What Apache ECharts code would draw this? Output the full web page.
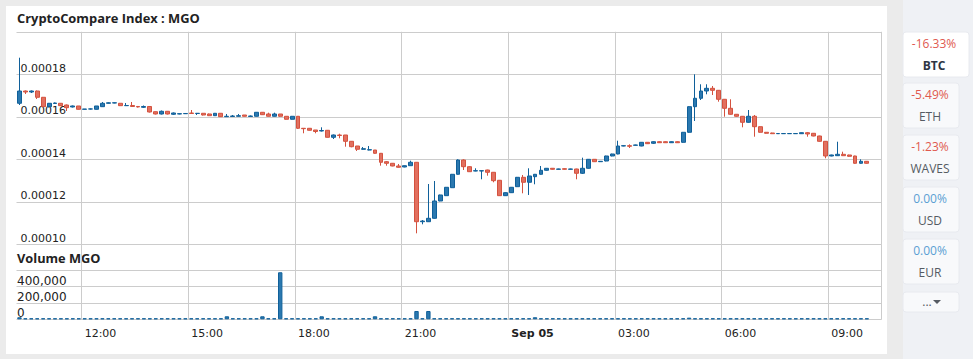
<!DOCTYPE html>
<html><head><meta charset="utf-8">
<script src="https://cdn.jsdelivr.net/npm/echarts@6/dist/echarts.min.js"></script>
<style>html,body{margin:0;padding:0;background:#ebebeb;}#c{width:973px;height:359px;}</style>
</head><body><div id="c"></div>
<script>
// 10-minute slots, Sep 04 10:10 -> Sep 05 10:20 (last two slots empty)
const categories = [
"09-04 10:10","09-04 10:20","09-04 10:30","09-04 10:40","09-04 10:50",
"09-04 11:00","09-04 11:10","09-04 11:20","09-04 11:30","09-04 11:40","09-04 11:50",
"09-04 12:00","09-04 12:10","09-04 12:20","09-04 12:30","09-04 12:40","09-04 12:50",
"09-04 13:00","09-04 13:10","09-04 13:20","09-04 13:30","09-04 13:40","09-04 13:50",
"09-04 14:00","09-04 14:10","09-04 14:20","09-04 14:30","09-04 14:40","09-04 14:50",
"09-04 15:00","09-04 15:10","09-04 15:20","09-04 15:30","09-04 15:40","09-04 15:50",
"09-04 16:00","09-04 16:10","09-04 16:20","09-04 16:30","09-04 16:40","09-04 16:50",
"09-04 17:00","09-04 17:10","09-04 17:20","09-04 17:30","09-04 17:40","09-04 17:50",
"09-04 18:00","09-04 18:10","09-04 18:20","09-04 18:30","09-04 18:40","09-04 18:50",
"09-04 19:00","09-04 19:10","09-04 19:20","09-04 19:30","09-04 19:40","09-04 19:50",
"09-04 20:00","09-04 20:10","09-04 20:20","09-04 20:30","09-04 20:40","09-04 20:50",
"09-04 21:00","09-04 21:10","09-04 21:20","09-04 21:30","09-04 21:40","09-04 21:50",
"09-04 22:00","09-04 22:10","09-04 22:20","09-04 22:30","09-04 22:40","09-04 22:50",
"09-04 23:00","09-04 23:10","09-04 23:20","09-04 23:30","09-04 23:40","09-04 23:50",
"09-05 00:00","09-05 00:10","09-05 00:20","09-05 00:30","09-05 00:40","09-05 00:50",
"09-05 01:00","09-05 01:10","09-05 01:20","09-05 01:30","09-05 01:40","09-05 01:50",
"09-05 02:00","09-05 02:10","09-05 02:20","09-05 02:30","09-05 02:40","09-05 02:50",
"09-05 03:00","09-05 03:10","09-05 03:20","09-05 03:30","09-05 03:40","09-05 03:50",
"09-05 04:00","09-05 04:10","09-05 04:20","09-05 04:30","09-05 04:40","09-05 04:50",
"09-05 05:00","09-05 05:10","09-05 05:20","09-05 05:30","09-05 05:40","09-05 05:50",
"09-05 06:00","09-05 06:10","09-05 06:20","09-05 06:30","09-05 06:40","09-05 06:50",
"09-05 07:00","09-05 07:10","09-05 07:20","09-05 07:30","09-05 07:40","09-05 07:50",
"09-05 08:00","09-05 08:10","09-05 08:20","09-05 08:30","09-05 08:40","09-05 08:50",
"09-05 09:00","09-05 09:10","09-05 09:20","09-05 09:30","09-05 09:40","09-05 09:50",
"09-05 10:00","09-05 10:10","09-05 10:20"
];
// category indices where tick labels/grid lines sit
const tickIndex = [11, 29, 47, 65, 83, 101, 119, 137];
const xTickLabels = ["12:00","15:00","18:00","21:00","Sep 05","03:00","06:00","09:00"];

// prices in satoshi (1e-8 BTC)
const openSat = [
16636,17214,17167,17214,16918,16476,16626,16636,16556,16462,16509,16353,
16367,16353,16476,16636,16650,16636,16523,16532,16485,16447,16485,16240,
16132,16259,16118,16132,16146,16179,16156,16165,16132,16052,16165,16005,
16015,16024,16085,16015,16024,16212,16132,16024,16132,16024,15883,16024,
15459,15459,15379,15332,15365,15035,15144,15144,14847,14626,14471,14438,
14438,14282,13887,13812,13685,13638,13699,13859,11063,11063,11223,12038,
12288,12664,13295,13967,13652,13450,13450,13497,13389,13012,12288,12429,
12711,13153,12918,13182,13295,13483,13577,13530,13558,13530,13544,13342,
13577,14000,13887,13920,14156,14250,14626,14640,14659,14626,14800,14753,
14828,14828,14781,14828,14800,15271,16476,16871,17214,17341,17247,16824,
16400,16118,16024,15741,16024,15534,15271,15238,15205,15205,15205,15205,
15205,15252,15224,15097,14847,14156,14170,14235,14203,14156,13812,13906
];
const closeSat = [
17214,17167,17214,16918,16476,16636,16650,16523,16428,16509,16353,16367,
16370,16509,16636,16659,16659,16523,16532,16485,16462,16485,16226,16132,
16259,16132,16179,16146,16156,16156,16165,16085,16052,16165,16005,16024,
16038,16052,16024,16038,16212,16099,16024,16132,16024,15883,16024,15459,
15440,15365,15308,15355,15035,15144,15120,14847,14593,14471,14499,14452,
14282,13859,13812,13685,13624,13699,13859,11063,11095,11223,12038,12321,
12683,13295,13967,13652,13417,13464,13464,13389,12993,12288,12429,12683,
13153,12918,13215,13295,13483,13577,13530,13544,13530,13544,13342,13577,
14000,13887,13906,14156,14250,14626,14640,14612,14673,14800,14734,14828,
14781,14781,14828,14781,15271,16476,16871,17214,17341,17247,16824,16400,
16118,16024,15741,16024,15534,15271,15224,15205,15214,15214,15214,15214,
15252,15191,15097,14847,14156,14203,14235,14170,14141,13812,13906,13812
];
const lowSat = [
16556,17073,17120,16838,16462,16438,16603,16509,16273,16438,16344,16344,
16344,16344,16462,16626,16636,16509,16509,16462,16438,16414,16203,16109,
16109,16109,16085,16118,16132,16132,16085,16062,16038,16038,15991,15991,
16005,16015,16015,16005,16015,16085,16015,16015,16005,15873,15873,15426,
15224,15355,15224,15308,15026,14955,14988,14593,14565,14391,14452,14424,
14264,13699,13699,13671,13605,13624,13690,10517,10941,11049,11205,12024,
12273,12650,13276,13497,13403,13436,13059,13229,12918,12273,12273,12415,
12697,12400,12321,12824,13276,13464,13511,13520,13511,13520,13059,13309,
13558,13873,13873,13906,14141,14235,14612,14532,14649,14612,14720,14720,
14767,14767,14767,14767,14781,15252,15803,16791,17059,17026,16711,16005,
16099,16005,15506,15722,15064,15252,15205,15191,15195,15195,15195,15195,
15191,15064,15082,14828,14047,14141,14156,14156,14123,13793,13793,13793
];
const highSat = [
18781,17238,17238,17238,16932,16650,16673,16650,16579,16532,16509,16367,
16391,16509,16697,16683,16673,16650,16650,16697,16509,16532,16485,16250,
16297,16273,16203,16156,16179,16320,16179,16179,16156,16179,16179,16132,
16085,16132,16085,16062,16226,16226,16194,16194,16132,16024,16038,16038,
15473,15473,15379,15506,15379,15167,15205,15144,14861,14626,14579,14626,
14438,14297,13920,13826,13779,13708,13934,13873,11142,12837,12979,12335,
12697,13309,14000,14000,13671,13577,13473,13511,13403,13026,12447,12697,
13168,13262,13577,13309,13685,13591,13591,13558,13577,13558,13558,14076,
14014,14014,13920,14170,14264,14875,14659,14706,14687,14814,14814,14847,
14847,14847,14847,14847,15285,16494,18000,17530,17530,17450,17261,16838,
16824,16132,16038,16320,16085,15553,15285,15252,15224,15224,15238,15224,
15260,15285,15238,15111,14861,14217,14828,14358,14217,14170,14000,13920
];
// volume in MGO
const volume = [
25000,3000,3000,3000,3000,3000,3000,3000,3000,3000,3000,3000,
3000,3000,3000,3000,3000,3000,3000,3000,3000,3000,3000,12000,
3000,3000,3000,3000,3000,3000,3000,3000,3000,12000,12000,37000,
3000,3000,3000,10000,10000,37000,10000,3000,577000,3000,3000,12000,
3000,3000,3000,37000,3000,3000,3000,3000,3000,3000,3000,3000,
37000,3000,3000,3000,3000,3000,12000,102000,12000,102000,12000,3000,
3000,10000,10000,3000,3000,3000,3000,3000,3000,12000,12000,3000,
3000,10000,10000,25000,3000,3000,3000,3000,3000,3000,3000,3000,
3000,3000,3000,3000,3000,3000,3000,3000,3000,3000,3000,3000,
3000,3000,3000,3000,10000,20000,12000,3000,3000,12000,12000,12000,
3000,3000,3000,12000,3000,3000,3000,3000,3000,3000,3000,3000,
3000,3000,3000,3000,12000,3000,3000,3000,3000,3000,3000,3000
];
const currencies = ["BTC","ETH","WAVES","USD","EUR"];
const changes = ["-16.33%","-5.49%","-1.23%","0.00%","0.00%"];

const candles = openSat.map((o, i) => [o / 1e8, closeSat[i] / 1e8, lowSat[i] / 1e8, highSat[i] / 1e8]);
const isTick = i => tickIndex.indexOf(i) >= 0;
const gridColor = '#cccccc';
const upFill = '#2b78af', upLine = '#10609a', downFill = '#e2705f', downLine = '#d4523f';

const graphics = [
  {type:'rect', z:-100, shape:{x:6,y:6,width:881,height:348}, style:{fill:'#ffffff'}},
  {type:'rect', z:-100, shape:{x:903,y:0,width:70,height:359}, style:{fill:'#eff1f5'}},
  {type:'text', x:17, y:18, style:{text:'CryptoCompare Index : MGO', fill:'#222', font:'bold 12.9px "Open Sans"', align:'left', verticalAlign:'middle'}},
  {type:'text', x:17, y:258, style:{text:'Volume MGO', fill:'#222', font:'bold 12.8px "Open Sans"', align:'left', verticalAlign:'middle'}}
];
const btnTops = [32, 83, 135, 187, 239];
currencies.forEach((c, k) => {
  const t = btnTops[k];
  const sel = k === 0;
  const w = sel ? 66 : 56;
  const cx = sel ? 934 : 930;
  graphics.push({type:'rect', z:-50, shape:{x:903,y:t,width:w,height:45,r:3}, style:{fill: sel ? '#ffffff' : '#f8f9fb', stroke:'#e8eaef', lineWidth:1}});
  const neg = changes[k].charAt(0) === '-';
  graphics.push({type:'text', x:cx, y:t+11, style:{text:changes[k], fill: neg ? '#e0594f' : '#5a9fd3', font:'12px "Open Sans"', align:'center', verticalAlign:'middle'}});
  graphics.push({type:'text', x:cx, y:t+33.5, style:{text:c, fill: sel ? '#2e3644' : '#555b63', font:(sel ? 'bold ' : '') + '12px "Open Sans"', align:'center', verticalAlign:'middle'}});
});
graphics.push({type:'rect', z:-50, shape:{x:903,y:292,width:56,height:20,r:3}, style:{fill:'#f8f9fb', stroke:'#e8eaef', lineWidth:1}});
graphics.push({type:'text', x:927, y:301, style:{text:'...', fill:'#555b63', font:'12px "Open Sans"', align:'center', verticalAlign:'middle'}});
graphics.push({type:'polygon', shape:{points:[[933,300],[941,300],[937,304]]}, style:{fill:'#555b63'}});

const xBase = {
  type:'category', data: categories, boundaryGap:true,
  axisLine:{show:false}, axisTick:{show:false},
  splitLine:{show:true, interval:(i) => isTick(i), lineStyle:{color:gridColor, width:1}}
};

const option = {
  animation:false,
  backgroundColor:'#ebebeb',
  graphic: graphics,
  grid:[
    {left:16.5, top:31.8, width:865.2, height:212.5},
    {left:16.5, top:244.3, width:865.2, height:75}
  ],
  xAxis:[
    Object.assign({}, xBase, {gridIndex:0, axisLabel:{show:false}}),
    Object.assign({}, xBase, {gridIndex:1, axisLabel:{
      show:true, interval:(i) => isTick(i), align:'left', margin:9,
      color:'#222', fontSize:11, fontFamily:'DejaVu Sans',
      formatter:(v, i) => { const k = tickIndex.indexOf(i); const s = xTickLabels[k] || ''; return s === 'Sep 05' ? '{b|' + s + '}' : s; },
      rich:{b:{fontWeight:'bold', fontSize:11, fontFamily:'DejaVu Sans', color:'#222'}}
    }})
  ],
  yAxis:[
    {gridIndex:0, type:'value', min:0.0001, max:0.0002, interval:0.00002, position:'left',
     axisLine:{show:false}, axisTick:{show:false},
     splitLine:{show:true, lineStyle:{color:gridColor, width:1}},
     axisLabel:{inside:true, margin:4, verticalAlign:'bottom', color:'#222', fontSize:11, fontFamily:'DejaVu Sans', lineHeight:12,
       formatter:(v) => v > 0.000199 ? '' : v.toFixed(5)}},
    {gridIndex:1, type:'value', min:0, max:920000, interval:200000, position:'left',
     axisLine:{show:false}, axisTick:{show:false},
     splitLine:{show:true, lineStyle:{color:[gridColor, gridColor, gridColor, gridColor, 'rgba(0,0,0,0)', 'rgba(0,0,0,0)']}},
     axisLabel:{inside:true, margin:0.5, verticalAlign:'bottom', color:'#222', fontSize:12, fontFamily:'DejaVu Sans', lineHeight:12,
       formatter:(v) => v > 400000 ? '' : v.toLocaleString('en-US')}}
  ],
  series:[
    {type:'candlestick', xAxisIndex:0, yAxisIndex:0, data:candles, barWidth:4.4,
     itemStyle:{color:upFill, color0:downFill, borderColor:upLine, borderColor0:downLine, borderWidth:1}},
    {type:'bar', xAxisIndex:1, yAxisIndex:1, data:volume, barWidth:4.4, barMinHeight:1,
     itemStyle:{color:upFill, borderColor:upLine, borderWidth:1}}
  ]
};
const chart = echarts.init(document.getElementById('c'), null, {renderer:'svg', width:973, height:359});
chart.setOption(option);
</script></body></html>
